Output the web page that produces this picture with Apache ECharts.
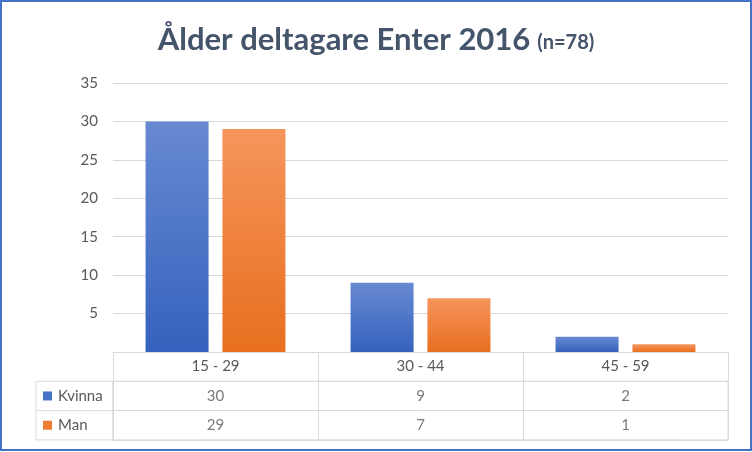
<!DOCTYPE html>
<html><head><meta charset="utf-8">
<script src="https://cdn.jsdelivr.net/npm/echarts@6/dist/echarts.min.js"></script>
<style>html,body{margin:0;padding:0;background:#fff}#c{width:752px;height:452px}</style>
</head><body><div id="c"></div>
<script>
var categories = ['15 - 29', '30 - 44', '45 - 59'];
var seriesNames = ['Kvinna', 'Man'];
var kvinna = [30, 9, 2];
var man = [29, 7, 1];
var yTicks = [0, 5, 10, 15, 20, 25, 30, 35];

var FONT = 'Lato';
var TXT = '#595959';
var LINE = '#D9D9D9';
var G = {left: 113, right: 24, top: 83, bottom: 352, rowH: 29.3};
var colors = {
  Kvinna: ['#6889d2', '#3562bd', '#4472C4'],
  Man: ['#f5955c', '#e86f1f', '#ED7D31']
};
function grad(c) {
  return new echarts.graphic.LinearGradient(0, 0, 0, 1, [{offset: 0, color: c[0]}, {offset: 1, color: c[1]}]);
}
var values = {Kvinna: kvinna, Man: man};
var cellData = [];
seriesNames.forEach(function (s) {
  values[s].forEach(function (v, i) { cellData.push([categories[i], s, v]); });
});
var rich = {name: {fontFamily: FONT, fontSize: 15, color: TXT, padding: [0, 0, 0, 6]}};
seriesNames.forEach(function (s, i) {
  rich['sq' + i] = {width: 9, height: 9, backgroundColor: colors[s][2]};
});

var chart = echarts.init(document.getElementById('c'), null, {renderer: 'canvas'});
var H = 452;
var row1Top = G.bottom + G.rowH;
chart.setOption({
  animation: false,
  title: {
    text: '{a|Ålder deltagare Enter 2016} {b|(n=78)}',
    left: 'center', top: 19,
    textStyle: {rich: {
      a: {fontFamily: FONT, fontSize: 31, fontWeight: 'bold', color: '#44546A'},
      b: {fontFamily: FONT, fontSize: 20, fontWeight: 'bold', color: '#44546A', padding: [7, 0, 0, 2]}
    }}
  },
  grid: [
    {left: G.left, right: G.right, top: G.top, height: G.bottom - G.top},
    {left: G.left, right: G.right, top: row1Top, height: G.rowH * 2, show: true, borderColor: LINE, borderWidth: 1}
  ],
  xAxis: [
    {type: 'category', gridIndex: 0, data: categories,
     axisLine: {show: true, lineStyle: {color: LINE}},
     axisTick: {show: true, length: G.rowH, interval: 0, lineStyle: {color: LINE}},
     axisLabel: {fontFamily: FONT, fontSize: 15, color: TXT, margin: 7}},
    {type: 'category', gridIndex: 1, data: categories,
     axisLine: {show: false}, axisTick: {show: false}, axisLabel: {show: false},
     splitLine: {show: true, interval: 0, lineStyle: {color: LINE}}}
  ],
  yAxis: [
    {type: 'value', gridIndex: 0, min: yTicks[0], max: yTicks[yTicks.length - 1], interval: 5,
     axisLine: {show: false}, axisTick: {show: false},
     splitLine: {lineStyle: {color: LINE}},
     axisLabel: {fontFamily: FONT, fontSize: 15, color: TXT, margin: 15,
       formatter: function (v) { return v === 0 ? '' : String(v); }}},
    {type: 'category', gridIndex: 1, data: seriesNames, inverse: true,
     axisLine: {show: false}, axisTick: {show: false},
     splitLine: {show: true, interval: 0, lineStyle: {color: LINE}},
     axisLabel: {align: 'left', margin: 70, rich: rich,
       formatter: function (v, i) { return '{sq' + i + '|}{name|' + v + '}'; }}}
  ],
  series: [
    {name: 'Kvinna', type: 'bar', xAxisIndex: 0, yAxisIndex: 0, data: kvinna,
     barWidth: 63, barGap: '22%', itemStyle: {color: grad(colors.Kvinna)}},
    {name: 'Man', type: 'bar', xAxisIndex: 0, yAxisIndex: 0, data: man,
     barWidth: 63, barGap: '22%', itemStyle: {color: grad(colors.Man)}},
    {type: 'scatter', xAxisIndex: 1, yAxisIndex: 1, data: cellData, symbolSize: 1,
     itemStyle: {color: 'rgba(0,0,0,0)'},
     label: {show: true, position: 'inside', fontFamily: FONT, fontSize: 15, color: TXT,
       formatter: function (p) { return String(p.value[2]); }}}
  ],
  graphic: [
    {type: 'rect', silent: true, shape: {x: 36, y: row1Top, width: G.left - 36, height: G.rowH * 2},
     style: {fill: 'none', stroke: LINE, lineWidth: 1}},
    {type: 'line', silent: true, shape: {x1: 36, y1: row1Top + G.rowH, x2: G.left, y2: row1Top + G.rowH},
     style: {stroke: LINE, lineWidth: 1}},
    {type: 'rect', silent: true, z: 100, shape: {x: 1, y: 1, width: 750, height: H - 3},
     style: {fill: 'none', stroke: '#4472C4', lineWidth: 2}}
  ]
});
</script></body></html>
